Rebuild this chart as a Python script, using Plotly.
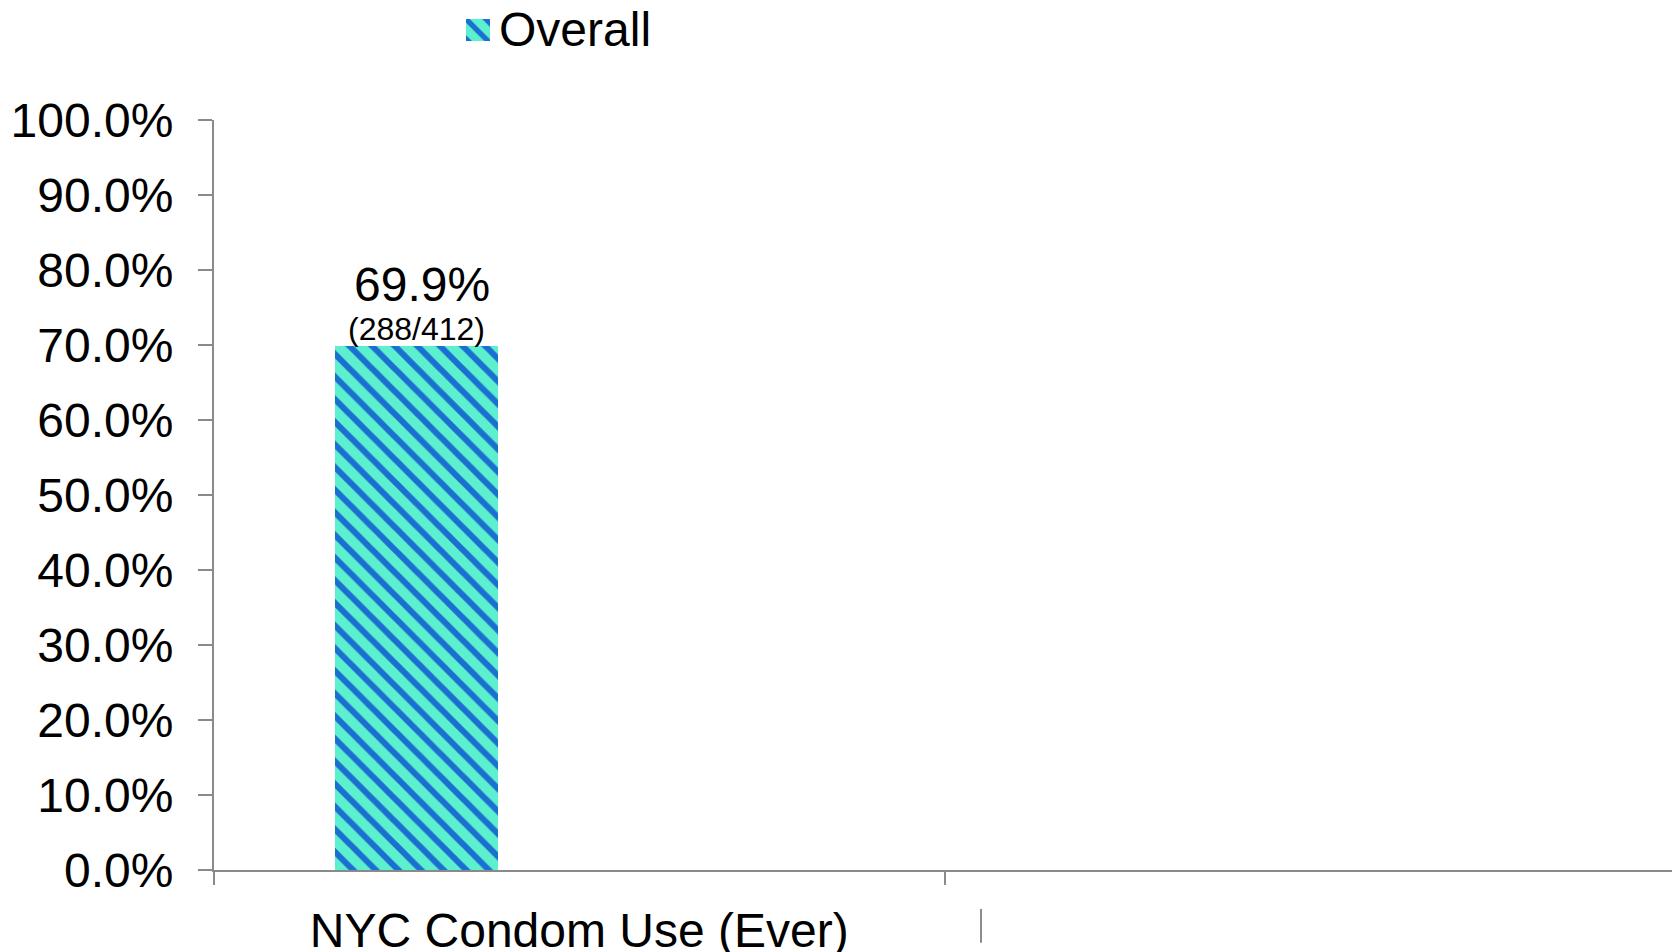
import plotly.graph_objects as go

categories = ["NYC Condom Use (Ever)", " "]
series_name = "Overall"
overall_values = [0.699, None]
count_labels = ["(288/412)", ""]
value_labels = ["69.9%", ""]
y_tick_values = [0.0, 0.1, 0.2, 0.3, 0.4, 0.5, 0.6, 0.7, 0.8, 0.9, 1.0]
legend_key_value = [1]

FONT = "Liberation Sans, Arial, sans-serif"
AXIS_GREY = "#8a8a8a"
TEAL = "#5cf0cf"
BLUE = "#1a6fd0"
BAR_WIDTH = 0.223
BAR_OFFSET = -0.334
bar_center = BAR_OFFSET + BAR_WIDTH / 2

W, H = 1680, 952
L, R, B = 206, 13, 90
plot_h = H - B           # paper area height (t=0)
plot_w = W - L - R
main_top_px = 112        # figure pixel y of 100%
main_dom_top = (plot_h - main_top_px) / plot_h

pattern = dict(shape="\\", fgcolor=BLUE, bgcolor=TEAL, size=16,
               solidity=0.38, fillmode="replace")

fig = go.Figure()
fig.add_trace(go.Bar(
    x=categories, y=overall_values, name=series_name,
    width=BAR_WIDTH, offset=BAR_OFFSET,
    marker=dict(color=TEAL, line=dict(width=0), pattern=pattern),
    legendgroup="overall", showlegend=False,
))
# legend key swatch (larger than plotly's built-in legend symbol)
fig.add_trace(go.Bar(
    x=[series_name], y=legend_key_value, xaxis="x2", yaxis="y2",
    width=1, marker=dict(color=TEAL, line=dict(width=0),
                         pattern=dict(pattern, size=14)),
    legendgroup="overall", showlegend=False, hoverinfo="skip",
))
# legend entry (symbol transparent; swatch drawn beneath)
fig.add_trace(go.Bar(
    x=[None], y=[None], name=series_name,
    marker=dict(color="rgba(0,0,0,0)", line=dict(width=0)),
    legendgroup="overall", showlegend=True,
))

annotations = []
for i, v in enumerate(overall_values):
    if v is None:
        continue
    annotations.append(dict(x=i + bar_center, y=v, xref="x", yref="y",
                            text=count_labels[i], showarrow=False,
                            yanchor="bottom", yshift=-3,
                            font=dict(family=FONT, size=32, color="black")))
    annotations.append(dict(x=i + bar_center, y=v, xref="x", yref="y",
                            text=value_labels[i], showarrow=False,
                            yanchor="bottom", yshift=33, xshift=5,
                            font=dict(family=FONT, size=48, color="black")))

icon_x0, icon_x1 = 458, 482
icon_y0, icon_y1 = 11, 33

fig.update_layout(
    width=W, height=H,
    margin=dict(l=L, r=R, t=0, b=B, autoexpand=False),
    paper_bgcolor="white", plot_bgcolor="white",
    font=dict(family=FONT, size=48, color="black"),
    bargap=0,
    showlegend=True,
    legend=dict(orientation="h", x=(451 - L) / plot_w, y=(plot_h - 20) / plot_h,
                xanchor="left", yanchor="middle",
                font=dict(family=FONT, size=48, color="black"),
                bgcolor="rgba(0,0,0,0)"),
    annotations=annotations,
    shapes=[dict(type="line", xref="x", yref="y domain", x0=0.55, x1=0.55,
                 y0=-0.052, y1=-0.097, line=dict(color=AXIS_GREY, width=2))],
    xaxis=dict(
        type="category", categoryorder="array", categoryarray=categories,
        range=[-0.5, 1.5], tickson="boundaries", ticks="outside", ticklen=13,
        tickwidth=2, tickcolor=AXIS_GREY, showline=True, linecolor=AXIS_GREY,
        linewidth=2, showgrid=False, zeroline=False, ticklabelstandoff=17,
        tickfont=dict(family=FONT, size=48, color="black"),
    ),
    yaxis=dict(
        domain=[0, main_dom_top],
        range=[0, 1], tickvals=y_tick_values, tickformat=".1%", ticks="outside",
        ticklen=14, tickwidth=2, tickcolor=AXIS_GREY, showline=True,
        linecolor=AXIS_GREY, linewidth=2, showgrid=False, zeroline=False,
        ticklabelstandoff=15,
        tickfont=dict(family=FONT, size=48, color="black"),
    ),
    xaxis2=dict(domain=[(icon_x0 - L) / plot_w, (icon_x1 - L) / plot_w],
                anchor="y2", visible=False, range=[-0.5, 0.5], fixedrange=True),
    yaxis2=dict(domain=[(plot_h - icon_y1) / plot_h, (plot_h - icon_y0) / plot_h],
                anchor="x2", visible=False, range=[0, 1], fixedrange=True),
)

fig.write_html("out.html")
